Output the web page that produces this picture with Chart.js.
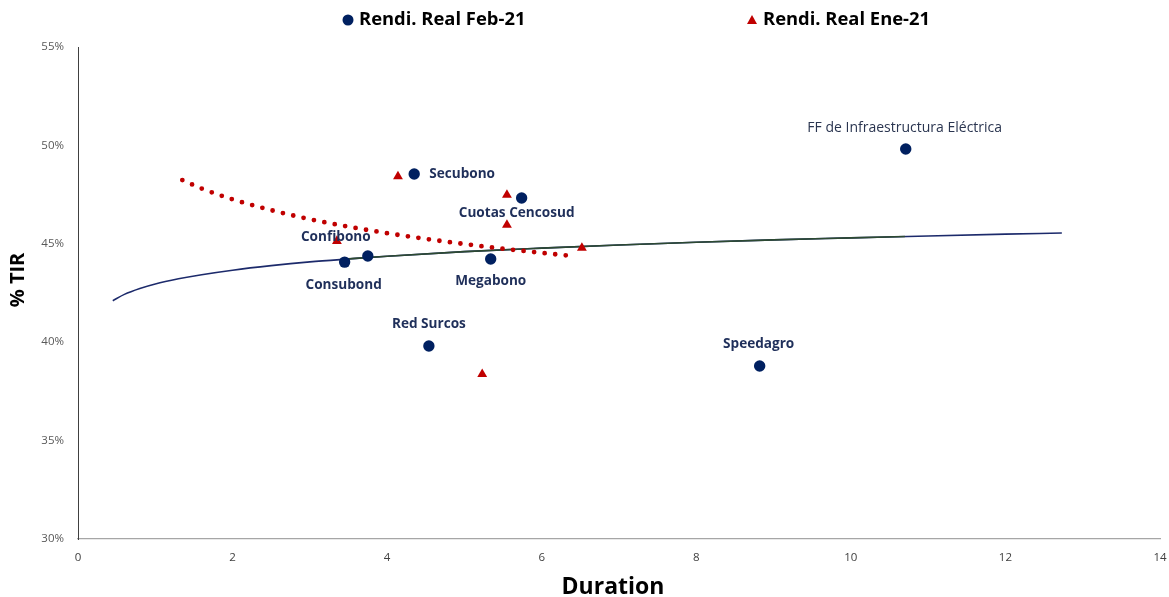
<!DOCTYPE html>
<html>
<head>
<meta charset="utf-8">
<script src="https://cdn.jsdelivr.net/npm/chart.js@4/dist/chart.umd.min.js"></script>
<style>
  html, body { margin: 0; padding: 0; background: #ffffff; }
  #wrap { width: 1169px; height: 597px; position: relative; }
</style>
</head>
<body>
<div id="wrap"><canvas id="c" width="1169" height="597"></canvas></div>
<script>
// ---- Data ----
const febNames    = ["Secubono", "Cuotas Cencosud", "FF de Infraestructura Eléctrica", "Confibono", "Consubond", "Megabono", "Red Surcos", "Speedagro"];
const febDuration = [4.35, 5.74, 10.71, 3.75, 3.45, 5.34, 4.54, 8.82];
const febTir      = [48.55, 47.33, 49.82, 44.38, 44.07, 44.23, 39.81, 38.79];

const eneDuration = [4.14, 5.55, 5.55, 3.35, 6.52, 5.23];
const eneTir      = [48.42, 47.48, 45.96, 45.14, 44.79, 38.38];

// trend line of Feb-21
const trendFebX = [0.45, 0.6, 0.8, 1, 1.3, 1.6, 2, 2.5, 3, 3.5, 4, 5, 6, 7, 8, 9, 10, 11, 12, 12.73];
const trendFebY = [42.11, 42.43, 42.73, 42.96, 43.22, 43.43, 43.66, 43.89, 44.08, 44.23, 44.37, 44.60, 44.78, 44.94, 45.08, 45.20, 45.30, 45.40, 45.49, 45.55];

// second (green) trend segment drawn over it
const trendGreenX = [3.45, 4, 5, 6, 7, 8, 9, 10, 10.7];
const trendGreenY = [44.22, 44.37, 44.60, 44.78, 44.94, 45.08, 45.20, 45.30, 45.37];

// dotted trend line of Ene-21
const trendEneX = [1.35, 1.6, 2, 2.5, 3, 3.5, 4, 4.5, 5, 5.5, 6, 6.4];
const trendEneY = [48.24, 47.81, 47.26, 46.71, 46.25, 45.87, 45.54, 45.25, 44.99, 44.75, 44.54, 44.38];

const yTicks = [30, 35, 40, 45, 50, 55];
const xTicks = [0, 2, 4, 6, 8, 10, 12, 14];

const legendLabels = ["Rendi. Real Feb-21", "Rendi. Real Ene-21"];
const xTitle = "Duration";
const yTitle = "% TIR";

// ---- Styles ----
const NAVY = "#002060";
const RED = "#c00000";
const labelStyle = {
  "Secubono":                        { dx: 15, dy: 0,   align: "left",   bold: true },
  "Cuotas Cencosud":                 { dx: -5, dy: 15,  align: "center", bold: true },
  "FF de Infraestructura Eléctrica": { dx: -1, dy: -21, align: "center", bold: false },
  "Confibono":                       { dx: -32, dy: -19, align: "center", bold: true },
  "Consubond":                       { dx: -1, dy: 23,  align: "center", bold: true },
  "Megabono":                        { dx: 0,  dy: 22,  align: "center", bold: true },
  "Red Surcos":                      { dx: 0,  dy: -22, align: "center", bold: true },
  "Speedagro":                       { dx: -1, dy: -22, align: "center", bold: true }
};

const toXY = (xs, ys) => xs.map((x, i) => ({ x: x, y: ys[i] }));

const overlayPlugin = {
  id: "overlay",
  afterDatasetsDraw(chart) {
    const ctx = chart.ctx;
    // point labels
    const meta = chart.getDatasetMeta(3);
    ctx.save();
    ctx.textBaseline = "middle";
    febNames.forEach((name, i) => {
      const el = meta.data[i];
      const st = labelStyle[name];
      ctx.font = (st.bold ? "bold 13.6px" : "14px") + " 'Open Sans', sans-serif";
      ctx.fillStyle = st.bold ? "#1f2f5a" : "#2a3550";
      ctx.textAlign = st.align;
      ctx.fillText(name, el.x + st.dx, el.y + st.dy);
    });
    ctx.restore();
  },
  afterDraw(chart) {
    const ctx = chart.ctx;
    ctx.save();
    // legend
    ctx.font = "bold 18.4px 'Open Sans', sans-serif";
    ctx.fillStyle = "#000000";
    ctx.textBaseline = "middle";
    ctx.textAlign = "left";
    ctx.beginPath();
    ctx.fillStyle = NAVY;
    ctx.arc(348, 20, 5.5, 0, Math.PI * 2);
    ctx.fill();
    ctx.fillStyle = "#000000";
    ctx.fillText(legendLabels[0], 359, 20);
    ctx.beginPath();
    ctx.fillStyle = RED;
    ctx.moveTo(752, 15); ctx.lineTo(757, 24); ctx.lineTo(747, 24); ctx.closePath();
    ctx.fill();
    ctx.fillStyle = "#000000";
    ctx.fillText(legendLabels[1], 763, 20);
    // axis titles
    ctx.font = "bold 23px 'Open Sans', sans-serif";
    ctx.textAlign = "center";
    ctx.fillText(xTitle, 613, 587);
    ctx.translate(18, 280);
    ctx.rotate(-Math.PI / 2);
    ctx.font = "bold 20px 'Open Sans', sans-serif";
    ctx.fillText(yTitle, 0, 0);
    ctx.restore();
  }
};

new Chart(document.getElementById("c"), {
  type: "scatter",
  data: {
    datasets: [
      {
        label: "trendFeb",
        data: toXY(trendFebX, trendFebY),
        showLine: true, pointRadius: 0, borderColor: "#1c2a6b", borderWidth: 1.6,
        cubicInterpolationMode: "monotone", order: 5
      },
      {
        label: "trendGreen",
        data: toXY(trendGreenX, trendGreenY),
        showLine: true, pointRadius: 0, borderColor: "#2d4a32", borderWidth: 1.6,
        cubicInterpolationMode: "monotone", order: 4
      },
      {
        label: "trendEne",
        data: toXY(trendEneX, trendEneY),
        showLine: true, pointRadius: 0, borderColor: RED, borderWidth: 4.8,
        borderDash: [0, 10.6], borderCapStyle: "round",
        cubicInterpolationMode: "monotone", order: 3
      },
      {
        label: legendLabels[0],
        data: toXY(febDuration, febTir),
        pointStyle: "circle", pointRadius: 5.7, backgroundColor: NAVY, borderColor: NAVY, borderWidth: 0,
        order: 1
      },
      {
        label: legendLabels[1],
        data: toXY(eneDuration, eneTir),
        pointStyle: "triangle", pointRadius: 5.7, backgroundColor: RED, borderColor: RED, borderWidth: 0,
        order: 2
      }
    ]
  },
  options: {
    responsive: false,
    animation: false,
    layout: { padding: { left: 0, right: 0, top: 47, bottom: 0 } },
    plugins: { legend: { display: false }, tooltip: { enabled: false } },
    scales: {
      x: {
        type: "linear", min: 0, max: 14,
        afterFit: s => { s.height = 58; s.paddingRight = 9; },
        afterBuildTicks: s => { s.ticks = xTicks.map(v => ({ value: v })); },
        grid: { display: false, drawTicks: false },
        border: { display: true, color: "#a6a6a6", width: 1.2 },
        ticks: { padding: 12, color: "#404040", font: { family: "'Open Sans', sans-serif", size: 11.5 } }
      },
      y: {
        type: "linear", min: 30, max: 55,
        afterFit: s => { s.width = 78; },
        afterBuildTicks: s => { s.ticks = yTicks.map(v => ({ value: v })); },
        grid: { display: false, drawTicks: false },
        border: { display: true, color: "#404040", width: 1 },
        ticks: { padding: 14, color: "#595959", font: { family: "'Open Sans', sans-serif", size: 11.5 },
                 callback: v => v + "%" }
      }
    }
  },
  plugins: [overlayPlugin]
});
</script>
</body>
</html>
